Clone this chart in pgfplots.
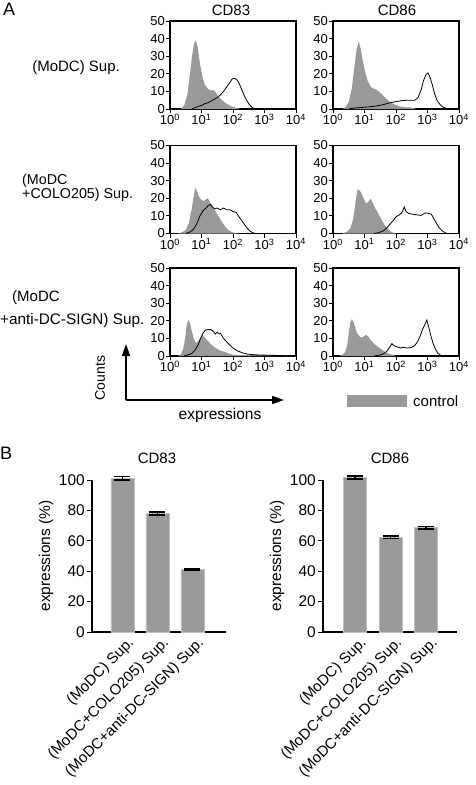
\documentclass[border=0pt]{standalone}
\usepackage{fontspec}
\setmainfont{Liberation Sans}
\usepackage{pgfplots}
\pgfplotsset{compat=1.18}
\usetikzlibrary{arrows.meta}
\definecolor{ctrl}{gray}{0.6}
\newcommand{\fs}[1]{\fontsize{#1}{#1}\selectfont}
\pgfplotsset{
 histo/.style={
   anchor=south west,
   scale only axis, width=126pt, height=88pt,
   xmin=0,xmax=4,ymin=0,ymax=50,
   xtick={0,1,2,3,4},
   xticklabels={10\textsuperscript{0},10\textsuperscript{1},10\textsuperscript{2},10\textsuperscript{3},10\textsuperscript{4}},
   ytick={0,10,20,30,40,50},
   tick align=outside, xtick pos=left, ytick pos=left,
   major tick length=4pt,
   axis line style={line width=1.2pt},
   every tick/.style={line width=0.9pt, black},
   tick label style={font=\fs{13}, inner sep=1pt},
   /pgf/number format/assume math mode=true,
   clip=false,
 },
 ctrlplot/.style={fill=ctrl, draw=none},
 smpl/.style={black, line width=0.8pt},
 barax/.style={
   anchor=south west,
   scale only axis, width=134pt, height=152pt,
   ymin=0, ymax=100, ytick={0,20,40,60,80,100},
   xtick={0,1,2},
   xticklabels={(MoDC) Sup.,(MoDC+COLO205) Sup.,(MoDC+anti-DC-SIGN) Sup.},
   x tick label style={rotate=45, anchor=north east, font=\fs{15}, inner sep=0pt, xshift=4pt, yshift=-2pt},
   y tick label style={font=\fs{15.5}, inner sep=2pt},
   axis x line*=bottom, axis y line*=left,
   axis line style={line width=1.4pt},
   tick align=outside, major tick length=5pt,
   xtick style={draw=none},
   ytick style={line width=1pt,black},
   ylabel={expressions (\%)},
   ylabel style={font=\fs{15.5}},
   /pgf/number format/assume math mode=true,
   clip=false,
   ybar, bar width=23pt,
 },
 barplot/.style={fill=ctrl, draw=black!25, line width=0.6pt,
   error bars/.cd, y dir=both, y explicit,
   error bar style={line width=1.6pt, black},
   error mark options={rotate=90, mark size=8pt, line width=1.6pt, black}},
}
\begin{document}
\begin{tikzpicture}
\useasboundingbox (0pt,0pt) rectangle (475pt,-785pt);
% ---------- Panel A labels
\node[anchor=north west, inner sep=0, font=\fs{18}] at (3pt,-3pt) {A};
\node[font=\fs{15}] at (231pt,-10pt) {CD83};
\node[font=\fs{15}] at (397pt,-10pt) {CD86};
\node[anchor=east, inner sep=0, font=\fs{15}] at (120pt,-68pt) {(MoDC) Sup.};
\node[anchor=west, inner sep=0, font=\fs{14.3}] at (22pt,-181pt) {(MoDC};
\node[anchor=west, inner sep=0, font=\fs{14.3}] at (22pt,-195pt) {+COLO205) Sup.};
\node[anchor=west, inner sep=0, font=\fs{15}] at (12pt,-298pt) {(MoDC};
\node[anchor=west, inner sep=0, font=\fs{15.3}] at (0pt,-321pt) {+anti-DC-SIGN) Sup.};
% ---------- Row 1
\begin{axis}[histo, at={(170pt,-109pt)}]
\addplot[ctrlplot] coordinates {(0,0) (0.35,0) (0.45,2) (0.55,8) (0.62,18) (0.7,30) (0.76,37) (0.82,39) (0.88,35) (0.95,26) (1.02,19) (1.1,14) (1.2,11.5) (1.3,10.5) (1.38,10.8) (1.45,9.5) (1.55,7) (1.65,5) (1.8,3) (1.95,1.5) (2.1,0.6) (2.25,0)};
\addplot[smpl] coordinates {(0.7,0) (0.8,0.8) (0.9,1.5) (1.0,2) (1.1,3) (1.2,3.5) (1.3,4.5) (1.4,5.5) (1.5,6.5) (1.6,8) (1.7,10) (1.8,12.5) (1.9,15) (1.97,17) (2.03,17.5) (2.1,17) (2.15,16) (2.22,13.5) (2.3,10) (2.4,6) (2.5,3) (2.6,1) (2.7,0)};
\end{axis}
\begin{axis}[histo, at={(333pt,-109pt)}]
\addplot[ctrlplot] coordinates {(0.3,0) (0.4,1) (0.5,4) (0.6,12) (0.68,24) (0.75,34) (0.82,38.5) (0.88,34) (0.95,27) (1.02,21) (1.1,16) (1.2,12.5) (1.3,11.5) (1.38,11) (1.45,10) (1.55,8.5) (1.65,6.5) (1.8,4) (1.95,2.5) (2.1,1.5) (2.3,1) (2.5,0.8) (2.6,0.3) (2.65,0)};
\addplot[smpl] coordinates {(0.5,0) (0.7,0.6) (1.0,1) (1.2,1.3) (1.4,1.8) (1.6,2.5) (1.8,3.5) (2.0,4.2) (2.2,4.8) (2.4,5) (2.6,5) (2.7,6.5) (2.8,11) (2.87,16) (2.95,19.5) (3.02,20.5) (3.08,18) (3.15,14) (3.22,9) (3.3,5) (3.4,2.5) (3.5,1) (3.6,0.3) (3.65,0)};
\end{axis}
% ---------- Row 2
\begin{axis}[histo, at={(170pt,-233.5pt)}]
\addplot[ctrlplot] coordinates {(0.25,0) (0.4,0.8) (0.5,2) (0.6,6) (0.68,13) (0.75,21) (0.8,26) (0.86,24) (0.92,21) (1.0,19) (1.08,18.5) (1.15,19.5) (1.2,20) (1.26,18) (1.35,15.5) (1.45,12.5) (1.55,9.5) (1.65,6.5) (1.75,4) (1.85,2) (1.95,1) (2.05,0.3) (2.15,0)};
\addplot[smpl] coordinates {(0.5,0) (0.65,1) (0.75,2.5) (0.85,5.5) (0.95,10) (1.05,13) (1.15,14.5) (1.22,16) (1.28,16.5) (1.35,15) (1.42,14) (1.5,14.5) (1.6,13.5) (1.7,14.5) (1.8,13.5) (1.9,13.5) (2.0,12.5) (2.1,12) (2.17,10) (2.25,8) (2.35,5.5) (2.45,3) (2.55,1.2) (2.65,0.3) (2.72,0)};
\end{axis}
\begin{axis}[histo, at={(333pt,-233.5pt)}]
\addplot[ctrlplot] coordinates {(0.3,0) (0.45,1) (0.55,3) (0.62,7) (0.68,13) (0.73,20) (0.78,25) (0.84,24.5) (0.9,23) (0.97,20) (1.05,17) (1.12,18) (1.2,19.8) (1.27,17) (1.35,14) (1.45,11) (1.55,7.5) (1.65,4.5) (1.75,2.5) (1.85,1) (1.95,0.2) (2.0,0)};
\addplot[smpl] coordinates {(1.3,0) (1.45,0.5) (1.6,1.5) (1.72,3.5) (1.82,5.5) (1.92,7.5) (2.0,9.5) (2.1,10.5) (2.17,11.5) (2.22,13) (2.26,15) (2.32,12.5) (2.4,11.5) (2.5,11) (2.6,10.8) (2.7,10.5) (2.8,10.3) (2.9,11.5) (2.97,11.7) (3.05,11.3) (3.12,11) (3.2,8.5) (3.28,6) (3.36,3.5) (3.45,1.8) (3.55,0.5) (3.62,0)};
\end{axis}
% ---------- Row 3
\begin{axis}[histo, at={(170pt,-356pt)}]
\addplot[ctrlplot] coordinates {(0.25,0) (0.35,1) (0.42,4) (0.48,10) (0.53,17.5) (0.58,20.5) (0.63,19) (0.68,15) (0.75,10) (0.82,7.5) (0.88,8) (0.95,10) (1.02,12) (1.1,10.5) (1.18,9) (1.28,7) (1.38,5.3) (1.5,4) (1.6,3) (1.7,2.5) (1.85,1.5) (2.0,0.8) (2.3,0.5) (2.7,0.4) (3.2,0.3) (3.7,0.2) (3.95,0)};
\addplot[smpl] coordinates {(0.45,0) (0.6,0.8) (0.7,1.5) (0.8,3.5) (0.9,6.5) (0.97,10) (1.05,13) (1.12,14.7) (1.2,15) (1.3,15) (1.38,14) (1.44,12.5) (1.5,13.5) (1.56,12.5) (1.6,13) (1.7,10) (1.8,8) (1.9,6.2) (2.0,4.5) (2.13,3) (2.3,1.8) (2.45,1.1) (2.6,0.8) (2.8,0.6) (3.2,0.4) (3.6,0.2) (4,0)};
\end{axis}
\begin{axis}[histo, at={(333pt,-356pt)}]
\addplot[ctrlplot] coordinates {(0.2,0) (0.3,0.8) (0.38,2) (0.45,6) (0.5,13) (0.55,19) (0.6,21) (0.66,19) (0.72,15) (0.78,12.5) (0.85,11) (0.92,10.5) (1.0,11.5) (1.05,12) (1.12,11) (1.2,9) (1.3,7) (1.4,5.5) (1.5,4.3) (1.6,3) (1.7,2) (1.8,1.2) (1.9,0.6) (2.0,0)};
\addplot[smpl] coordinates {(1.3,0) (1.45,0.4) (1.55,0.8) (1.65,1.8) (1.72,3) (1.8,5) (1.87,7) (1.93,6) (2.0,5.3) (2.08,5) (2.14,4.5) (2.2,5) (2.3,4.7) (2.4,4.5) (2.5,5) (2.6,6) (2.68,8) (2.76,11) (2.84,15) (2.92,18) (2.98,20.5) (3.03,17) (3.1,12) (3.17,7.5) (3.25,4) (3.33,1.5) (3.42,0.4) (3.5,0)};
\end{axis}
% ---------- arrows and legend
\draw[line width=1.5pt, -{Triangle[length=12pt,width=8pt]}] (126pt,-400pt) -- (126pt,-344pt);
\draw[line width=1.5pt, -{Triangle[length=12pt,width=8pt]}] (126pt,-400pt) -- (284pt,-400pt);
\node[rotate=90, font=\fs{14}] at (100pt,-378pt) {Counts};
\node[font=\fs{15.5}] at (220pt,-415pt) {expressions};
\fill[ctrl] (347pt,-395pt) rectangle (407pt,-407pt);
\node[anchor=west, inner sep=0, font=\fs{15}] at (413pt,-401pt) {control};
% ---------- Panel B
\node[anchor=north west, inner sep=0, font=\fs{18}] at (0pt,-447pt) {B};
\node[font=\fs{15}] at (157pt,-458pt) {CD83};
\node[font=\fs{15}] at (390pt,-458pt) {CD86};
\begin{axis}[barax, at={(92pt,-632pt)}, xmin=-0.87, xmax=2.96]
\addplot[barplot] coordinates {(0,101.2) +- (0,1) (1,77.8) +- (0,1) (2,41) +- (0,0.5)};
\end{axis}
\begin{axis}[barax, at={(323pt,-632pt)}, xmin=-0.9, xmax=2.87]
\addplot[barplot] coordinates {(0,101.8) +- (0,1) (1,62.2) +- (0,0.8) (2,68.6) +- (0,0.8)};
\end{axis}
\end{tikzpicture}
\end{document}
